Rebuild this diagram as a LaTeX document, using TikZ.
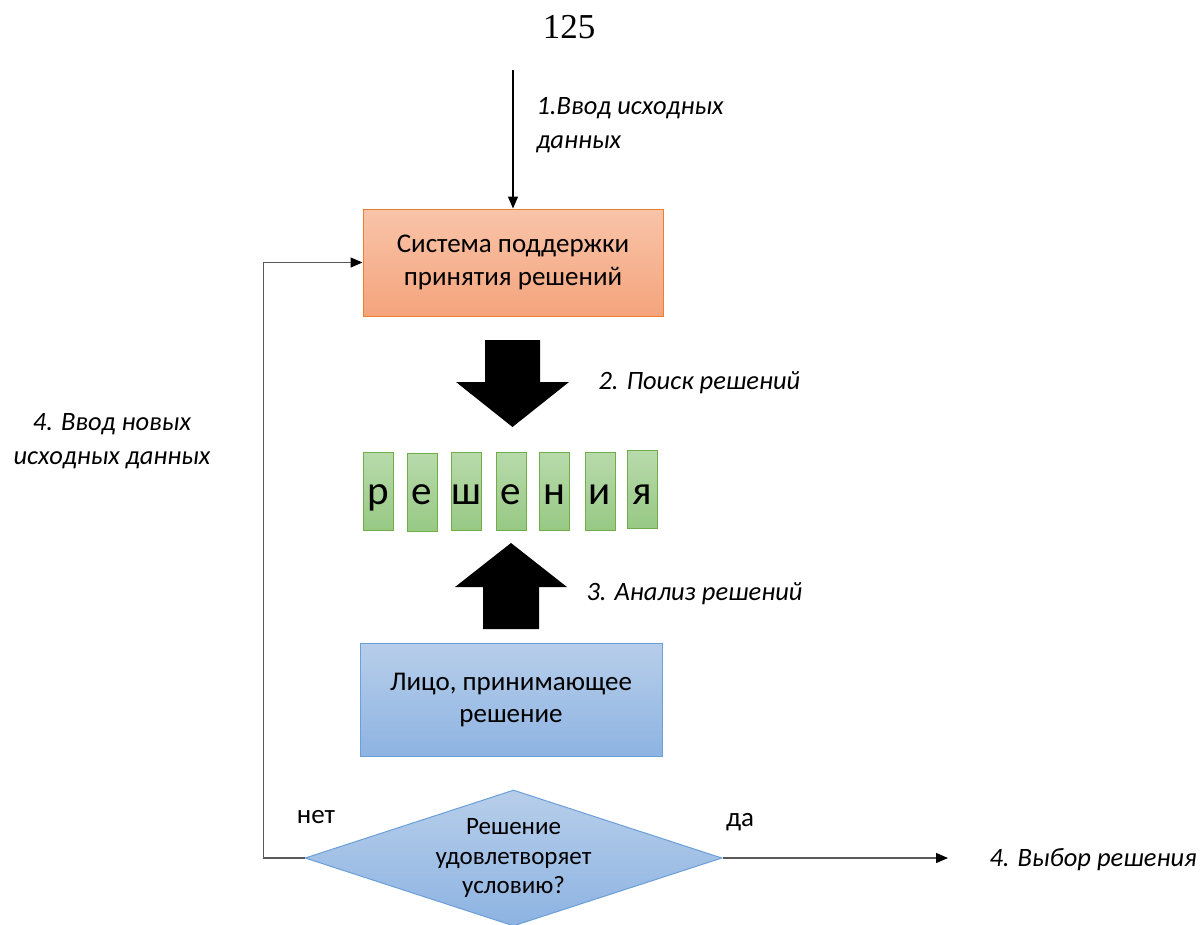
\documentclass[tikz,border=0pt]{standalone}
\usepackage{fontspec}
\setmainfont{Carlito}
\newfontfamily\timesf{Liberation Serif}
\usetikzlibrary{arrows.meta,shapes.geometric}
\definecolor{orTop}{HTML}{F9C4A9}
\definecolor{orBot}{HTML}{F4A47C}
\definecolor{orLine}{HTML}{ED7D31}
\definecolor{grTop}{HTML}{B8DAAB}
\definecolor{grBot}{HTML}{97C984}
\definecolor{grLine}{HTML}{70AD47}
\definecolor{blTop}{HTML}{B7CEEA}
\definecolor{blBot}{HTML}{8DB3E2}
\definecolor{blLine}{HTML}{6A9FD8}
\definecolor{conGray}{HTML}{595959}
\tikzset{
  boxtext/.style={font=\fontsize{27}{32.5}\selectfont, align=center},
  lbl/.style={font=\fontsize{26.5}{34}\selectfont\itshape, align=left},
  orbox/.style={draw=orLine, line width=1pt, top color=orTop, bottom color=orBot,
    minimum width=300pt, minimum height=107pt, boxtext, inner sep=0pt},
  blbox/.style={draw=blLine, line width=1pt, top color=blTop, bottom color=blBot,
    minimum width=302pt, minimum height=113pt, boxtext, inner sep=0pt},
  letterbox/.style={draw=grLine, line width=0.8pt, top color=grTop, bottom color=grBot,
    minimum width=30pt, minimum height=78pt, inner sep=0pt},
  letter/.style={font=\fontsize{41}{44}\selectfont, anchor=base, inner sep=0pt},
  conn/.style={draw=conGray, line width=1.3pt, -{Triangle[length=12pt,width=10pt,fill=black,color=black]}},
  blockarrow/.style={fill=black, draw=none},
  dia/.style={diamond, draw=blLine, line width=1pt, top color=blTop, bottom color=blBot,
    minimum width=417pt, minimum height=136pt, inner sep=0pt},
}
\begin{document}
\begin{tikzpicture}[x=1pt,y=-1pt]
\useasboundingbox (0,0) rectangle (1202,924);

% page number
\node[font=\timesf\fontsize{35}{40}\selectfont] (pg) at (569,27) {125};

% main boxes
\node[orbox] (spp) at (513,262.5) {Система поддержки\\принятия решений};
\node[blbox] (lpr) at (511,700) {Лицо, принимающее\\решение};

% input arrow
\coordinate (in) at (513,70);
\draw[conn, draw=black] (in) -- (spp.north);
\node[lbl, anchor=west] (l1) at (533,125) {1.Ввод исходных\\данных};

% block arrow down
\fill[blockarrow] (485,340) -- (540,340) -- (540,382) -- (569,382) -- (512.5,427)
  -- (456,382) -- (485,382) -- cycle;
\node[lbl, anchor=west] (l2) at (595,383) {2. Поиск решений};

% letters
\foreach \n/\x/\yt/\ch in {1/378/452/р, 2/422/453/е, 3/466.5/452/ш, 4/511/452/е,
   5/554.5/452/н, 6/600/452/и, 7/642.5/450/я}{
  \node[letterbox, anchor=north] (b\n) at (\x,\yt) {};
  \node[letter] (t\n) at (\x,504) {\ch};
}

% block arrow up
\fill[blockarrow] (483,629) -- (539,629) -- (539,587) -- (567,587) -- (511,543)
  -- (455,587) -- (483,587) -- cycle;
\node[lbl, anchor=west] (l3) at (583,594) {3. Анализ решений};

% decision diamond
\node[dia] (dec) at (513.5,858) {};
\node[font=\fontsize{25}{29.5}\selectfont, align=center] (dect) at (513.5,858) {Решение\\удовлетворяет\\условию?};

% feedback
\draw[conn] (dec.west) -- ++(-41,0) |- (spp.west);
\node[lbl, align=center] (l4) at (112,441) {4. Ввод новых\\исходных данных};
\node[font=\fontsize{27}{30}\selectfont] (no) at (316,817) {нет};

% yes
\coordinate (out) at (948,858);
\draw[conn] (dec.east) -- (out);
\node[font=\fontsize{27}{30}\selectfont] (yes) at (740,822) {да};
\node[lbl, anchor=west] (l5) at (986,860) {4. Выбор решения};
\end{tikzpicture}
\end{document}
